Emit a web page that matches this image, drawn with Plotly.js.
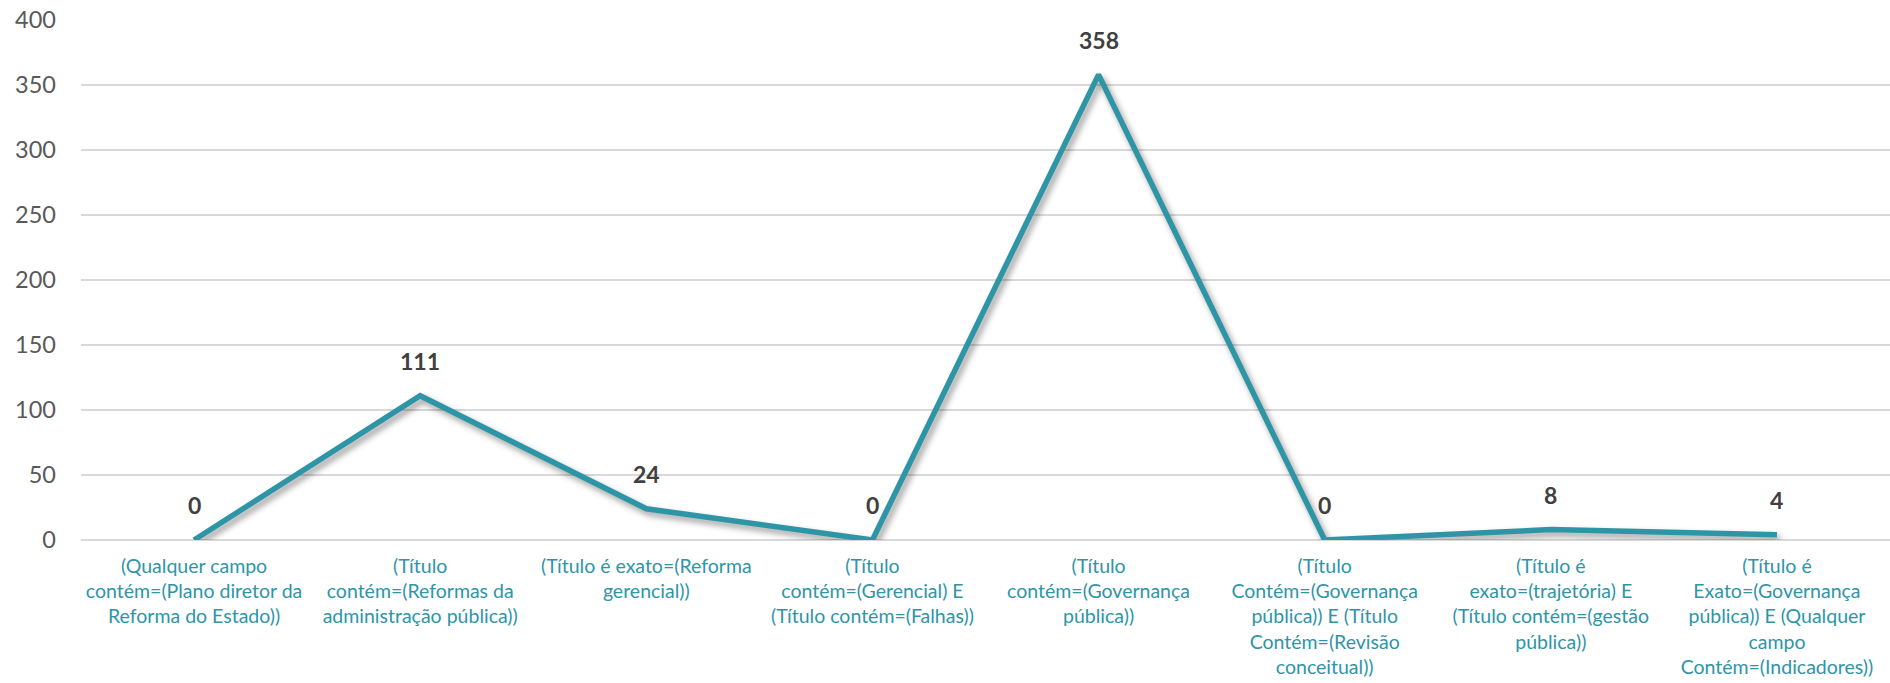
<!DOCTYPE html>
<html>
<head>
<meta charset="utf-8">
<script src="https://cdn.plot.ly/plotly-3.0.1.min.js"></script>
<style>
  html, body { margin: 0; padding: 0; background: #fff; }
  #chart { width: 1890px; height: 683px; }
</style>
</head>
<body>
<div id="chart"></div>
<script>
const categories = [
  "(Qualquer campo<br>contém=(Plano diretor da<br>Reforma do Estado))",
  "(Título<br>contém=(Reformas da<br>administração pública))",
  "(Título é exato=(Reforma<br>gerencial))",
  "(Título<br>contém=(Gerencial) E<br>(Título contém=(Falhas))",
  "(Título<br>contém=(Governança<br>pública))",
  "(Título<br>Contém=(Governança<br>pública)) E (Título<br>Contém=(Revisão<br>conceitual))",
  "(Título é<br>exato=(trajetória) E<br>(Título contém=(gestão<br>pública))",
  "(Título é<br>Exato=(Governança<br>pública)) E (Qualquer<br>campo<br>Contém=(Indicadores))"
];
const values = [0, 111, 24, 0, 358, 0, 8, 4];
const yTicks = [0, 50, 100, 150, 200, 250, 300, 350, 400];

const trace = {
  x: categories,
  y: values,
  type: 'scatter',
  mode: 'lines',
  line: { color: '#2E95A7', width: 5.5 },
  hoverinfo: 'skip'
};

const annotations = categories.map((c, i) => ({
  x: c, y: values[i], xref: 'x', yref: 'y',
  text: String(values[i]),
  showarrow: false,
  yanchor: 'middle',
  yshift: 35,
  font: { family: 'Lato, sans-serif', size: 23, color: '#404040', weight: 'bold' }
}));

const layout = {
  width: 1890, height: 683,
  margin: { l: 81, r: 0, t: 20, b: 143 },
  paper_bgcolor: '#ffffff',
  plot_bgcolor: '#ffffff',
  showlegend: false,
  xaxis: {
    type: 'category',
    range: [-0.5, 7.5],
    showgrid: false,
    showline: false,
    ticks: '',
    tickangle: 0,
    ticklabelstandoff: 12,
    tickfont: { family: 'Lato, sans-serif', size: 19.5, color: '#2E95A7' }
  },
  yaxis: {
    range: [0, 400],
    tickvals: yTicks,
    ticktext: yTicks.map(String),
    showgrid: true,
    gridcolor: '#D9D9D9',
    gridwidth: 1.5,
    zeroline: true,
    zerolinecolor: '#D9D9D9',
    zerolinewidth: 1.5,
    showline: false,
    ticks: '',
    ticklabelstandoff: 24,
    tickfont: { family: 'Lato, sans-serif', size: 23.5, color: '#595959' }
  },
  annotations: annotations
};

Plotly.newPlot('chart', [trace], layout, { displayModeBar: false, staticPlot: true }).then(() => {
  document.querySelectorAll('.scatterlayer .js-line').forEach(p => {
    p.style.filter = 'drop-shadow(3px 4px 3px rgba(0,0,0,0.4))';
  });
});
</script>
</body>
</html>
